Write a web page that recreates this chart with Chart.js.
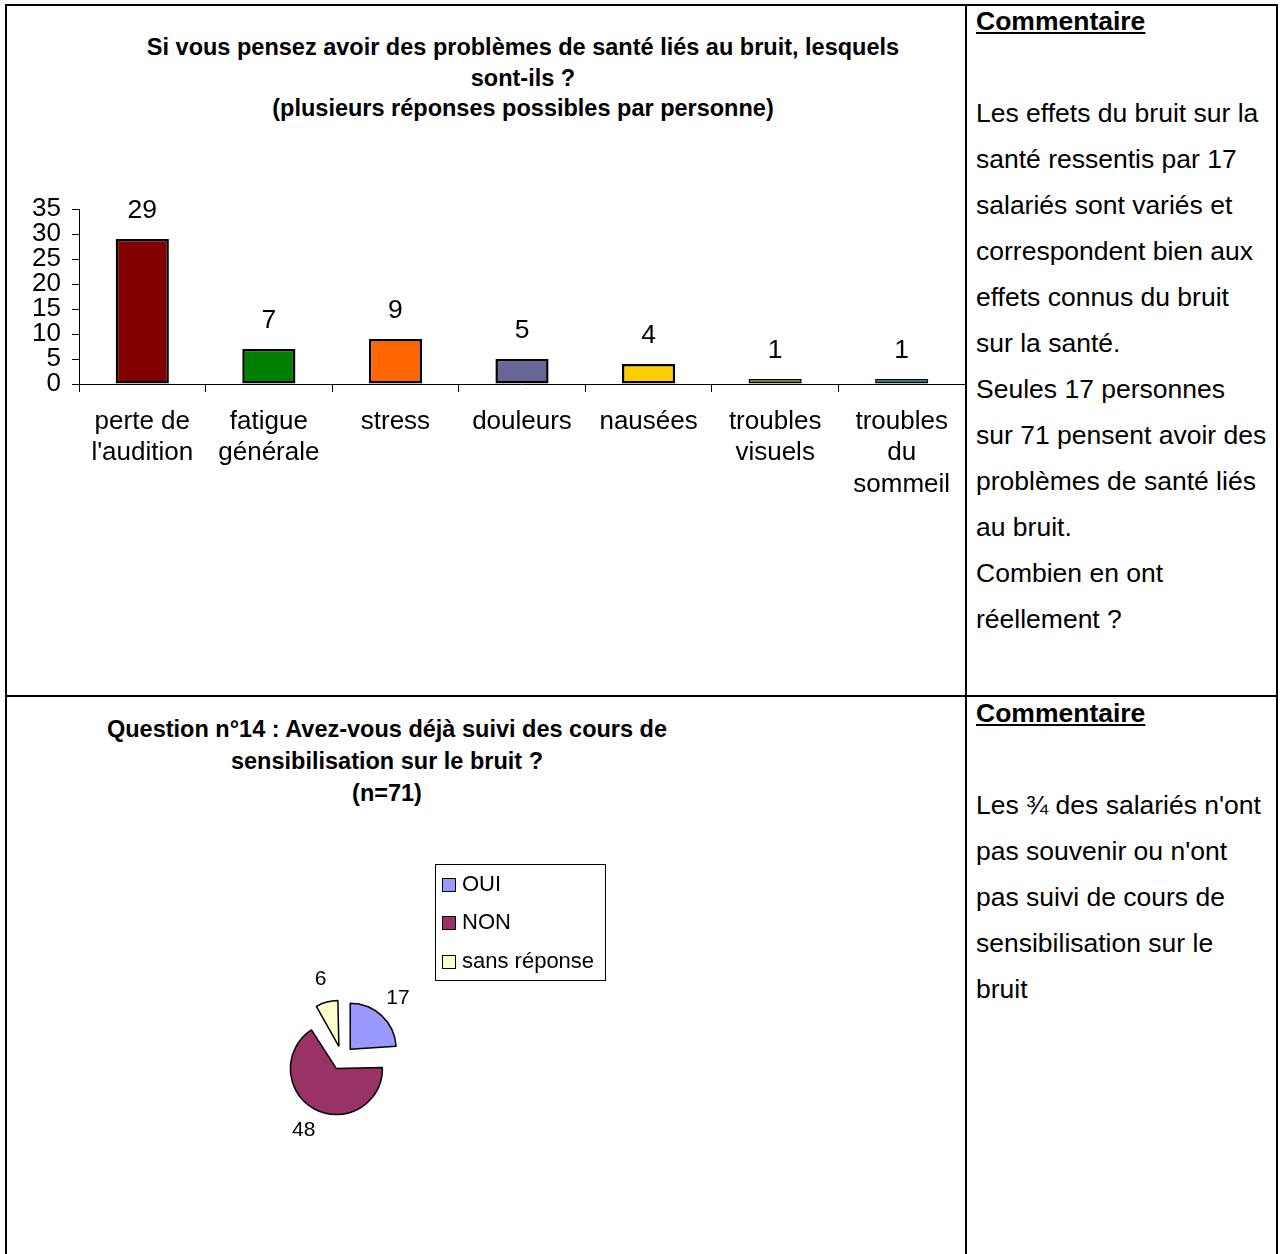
<!DOCTYPE html>
<html>
<head>
<meta charset="utf-8">
<script src="https://cdn.jsdelivr.net/npm/chart.js@4.4.1/dist/chart.umd.min.js"></script>
<style>
  html, body { margin:0; padding:0; background:#fff; }
  body { width:1280px; height:1254px; position:relative; overflow:hidden; font-family:"Liberation Sans", Arial, sans-serif; color:#000; }
  .abs { position:absolute; }
  .line { position:absolute; background:#000; }
  .title { position:absolute; font-weight:bold; text-align:center; white-space:nowrap; }
  .comment { position:absolute; left:976px; font-size:26.5px; line-height:46px; white-space:nowrap; }
  .comment .head { font-weight:bold; text-decoration:underline; }
  #legend { position:absolute; left:435px; top:864px; width:169px; height:115px; border:1px solid #000; font-size:22px; }
  #legend .item { position:absolute; left:6px; height:24px; line-height:24px; white-space:nowrap; }
  #legend .sw { display:inline-block; width:12px; height:12px; border:1px solid #000; margin-right:6px; vertical-align:-1px; }
</style>
</head>
<body>
<!-- table borders -->
<div class="line" style="left:5px;top:4px;width:2px;height:1260px;"></div>
<div class="line" style="left:1276px;top:4px;width:2px;height:1260px;"></div>
<div class="line" style="left:5px;top:4px;width:1273px;height:2px;"></div>
<div class="line" style="left:965px;top:4px;width:2px;height:1260px;"></div>
<div class="line" style="left:5px;top:695px;width:1273px;height:2px;"></div>

<div class="title" style="left:7px;width:1032px;top:32px;font-size:23.5px;line-height:30.5px;">
Si vous pensez avoir des problèmes de santé liés au bruit, lesquels<br>sont-ils ?<br>(plusieurs réponses possibles par personne)
</div>

<div class="title" style="left:7px;width:760px;top:713px;font-size:23.5px;line-height:32px;">
Question n°14 : Avez-vous déjà suivi des cours de<br>sensibilisation sur le bruit ?<br>(n=71)
</div>

<div class="comment" style="top:-2px;">
<span class="head">Commentaire</span><br><br>
Les effets du bruit sur la<br>santé ressentis par 17<br>salariés sont variés et<br>correspondent bien aux<br>effets connus du bruit<br>sur la santé.<br>Seules 17 personnes<br>sur 71 pensent avoir des<br>problèmes de santé liés<br>au bruit.<br>Combien en ont<br>réellement ?
</div>

<div class="comment" style="top:690px;">
<span class="head">Commentaire</span><br><br>
Les ¾ des salariés n'ont<br>pas souvenir ou n'ont<br>pas suivi de cours de<br>sensibilisation sur le<br>bruit
</div>

<div class="abs" style="left:7px;top:150px;width:958px;height:360px;"><canvas id="bar"></canvas></div>
<div class="abs" style="left:222px;top:938px;width:240px;height:240px;"><canvas id="pie"></canvas></div>
<div id="legend"></div>

<script>
// ---- data ----
const barCategories = [["perte de","l'audition"],["fatigue","générale"],["stress"],["douleurs"],["nausées"],["troubles","visuels"],["troubles","du","sommeil"]];
const barValues = [29, 7, 9, 5, 4, 1, 1];
const barColors = ["#800000","#008000","#FF6600","#666699","#FFCC00","#808000","#008080"];
const yTicks = [0, 5, 10, 15, 20, 25, 30, 35];

const pieLabels = ["OUI", "NON", "sans réponse"];
const pieValues = [17, 48, 6];
const pieColors = ["#9999FF", "#993366", "#FFFFCC"];

const FONT = "'Liberation Sans', Arial, sans-serif";
const PIE_RADIUS = 46;

const barLabelPlugin = {
  id: 'barLabels',
  afterDatasetsDraw(chart) {
    const ctx = chart.ctx;
    const meta = chart.getDatasetMeta(0);
    ctx.save();
    ctx.font = "26.5px " + FONT;
    ctx.fillStyle = "#000";
    ctx.textAlign = "center";
    ctx.textBaseline = "middle";
    meta.data.forEach((el, i) => {
      ctx.fillText(String(chart.data.datasets[0].data[i]), el.x, el.y - 28);
    });
    ctx.restore();
  }
};

new Chart(document.getElementById('bar'), {
  type: 'bar',
  data: {
    labels: barCategories,
    datasets: [{
      data: barValues,
      backgroundColor: barColors,
      borderColor: "#000",
      borderWidth: (ctx) => (ctx.raw <= 1 ? 1.5 : 2.5),
      borderSkipped: false,
      categoryPercentage: 1,
      barPercentage: 0.42
    }]
  },
  options: {
    responsive: true,
    maintainAspectRatio: false,
    animation: false,
    layout: { padding: { top: 59, right: 0, bottom: 0, left: 0 } },
    plugins: { legend: { display: false }, tooltip: { enabled: false } },
    scales: {
      x: {
        grid: { display: true, drawOnChartArea: false, offset: true, color: "#000", tickLength: 8, lineWidth: 1 },
        border: { display: true, color: "#000", width: 1 },
        ticks: { color: "#000", font: { size: 26, family: FONT, lineHeight: 1.21 }, padding: 14, maxRotation: 0, autoSkip: false },
        afterFit(scale) { scale.height = 126; }
      },
      y: {
        min: 0, max: 35,
        afterBuildTicks(scale) { scale.ticks = yTicks.map(v => ({ value: v })); },
        grid: { display: true, drawOnChartArea: false, color: "#000", tickLength: 7, lineWidth: 1 },
        border: { display: true, color: "#000", width: 1 },
        ticks: { color: "#000", font: { size: 26, family: FONT }, padding: 11, autoSkip: false },
        afterFit(scale) { scale.width = 72; }
      }
    }
  },
  plugins: [barLabelPlugin]
});

// keep every exploded slice at the same visible radius
const pieRadiusFix = {
  id: 'pieRadiusFix',
  beforeDatasetsDraw(chart) {
    const meta = chart.getDatasetMeta(0);
    meta.data.forEach(arc => {
      const circ = arc.circumference;
      const off = (arc.options.offset || 0) / 4;
      const fix = 1 - Math.sin(Math.min(Math.PI, circ || 0));
      arc.outerRadius = PIE_RADIUS - off * fix;
    });
  }
};

const pieLabelPlugin = {
  id: 'pieLabels',
  afterDatasetsDraw(chart) {
    const ctx = chart.ctx;
    const meta = chart.getDatasetMeta(0);
    ctx.save();
    ctx.font = "21px " + FONT;
    ctx.fillStyle = "#000";
    ctx.textAlign = "center";
    ctx.textBaseline = "middle";
    meta.data.forEach((arc, i) => {
      const mid = (arc.startAngle + arc.endAngle) / 2;
      const r = PIE_RADIUS + 36;
      ctx.fillText(String(chart.data.datasets[0].data[i]), arc.x + Math.cos(mid) * r, arc.y + Math.sin(mid) * r);
    });
    ctx.restore();
  }
};

new Chart(document.getElementById('pie'), {
  type: 'pie',
  data: {
    labels: pieLabels,
    datasets: [{
      data: pieValues,
      backgroundColor: pieColors,
      borderColor: "#000",
      borderWidth: 1.5,
      offset: 48
    }]
  },
  options: {
    responsive: true,
    maintainAspectRatio: false,
    animation: false,
    radius: PIE_RADIUS,
    layout: { padding: 0 },
    plugins: { legend: { display: false }, tooltip: { enabled: false } }
  },
  plugins: [pieRadiusFix, pieLabelPlugin]
});

// HTML legend built from the pie data
const legend = document.getElementById('legend');
const legendTops = [7, 45, 84];
pieLabels.forEach((lab, i) => {
  const d = document.createElement('div');
  d.className = 'item';
  d.style.top = legendTops[i] + 'px';
  d.innerHTML = '<span class="sw" style="background:' + pieColors[i] + '"></span>' + lab;
  legend.appendChild(d);
});
</script>
</body>
</html>
